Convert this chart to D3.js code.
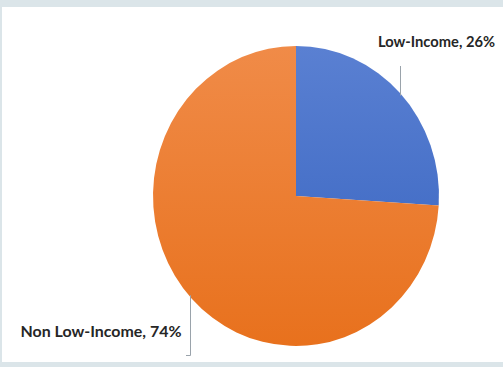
<!DOCTYPE html>
<html><head><meta charset="utf-8">
<script src="https://cdn.jsdelivr.net/npm/d3@7"></script>
<style>html,body{margin:0;padding:0;background:#ffffff;overflow:hidden}svg{display:block}</style>
</head><body>
<script>
const categories = ["Low-Income", "Non Low-Income"];
const values = [26, 74];
const colorsTop = ["#5a80d2", "#f08b48"];
const colorsBottom = ["#3562bf", "#e8711d"];

const W = 503, H = 367;
const cx = 296, cy = 196, rx = 143, ry = 150;

const svg = d3.select("body").append("svg").attr("width", W).attr("height", H);
svg.append("rect").attr("width", W).attr("height", H).attr("fill", "#dbe5e9");
svg.append("rect").attr("x", 2).attr("y", 7).attr("width", W - 2).attr("height", 355).attr("fill", "#ffffff");

const defs = svg.append("defs");
categories.forEach((c, i) => {
  const g = defs.append("linearGradient").attr("id", "g" + i)
    .attr("gradientUnits", "userSpaceOnUse")
    .attr("x1", 0).attr("y1", -ry).attr("x2", 0).attr("y2", ry);
  g.append("stop").attr("offset", "0%").attr("stop-color", colorsTop[i]);
  g.append("stop").attr("offset", "100%").attr("stop-color", colorsBottom[i]);
});

const data = categories.map((c, i) => ({ name: c, value: values[i], i }));
const pie = d3.pie().value(d => d.value).sort(null);
const arc = d3.arc().innerRadius(0).outerRadius(ry);

const gp = svg.append("g").attr("transform", `translate(${cx},${cy}) scale(${rx / ry},1)`);
gp.selectAll("path").data(pie(data)).join("path")
  .attr("d", arc)
  .attr("fill", d => `url(#g${d.data.i})`);

// leader lines
function edgeY(x, sign) {
  const dx = (x - cx) / rx;
  return cy + sign * ry * Math.sqrt(Math.max(0, 1 - dx * dx));
}
const lc = "#9aa3ab";
svg.append("line").attr("x1", 400.5).attr("x2", 400.5).attr("y1", 66).attr("y2", edgeY(400.5, -1) + 2)
  .attr("stroke", lc).attr("stroke-width", 1);
svg.append("polyline")
  .attr("points", `190.5,${edgeY(190.5, 1) - 2} 190.5,355.5 186,355.5`)
  .attr("fill", "none").attr("stroke", lc).attr("stroke-width", 1);

const font = "Lato, 'Open Sans', sans-serif";
svg.append("text").attr("x", 378).attr("y", 47)
  .attr("font-family", font).attr("font-weight", "bold").attr("font-size", 15)
  .attr("textLength", 117).attr("lengthAdjust", "spacingAndGlyphs")
  .attr("fill", "#262626").text(`${categories[0]}, ${values[0]}%`);
svg.append("text").attr("x", 20.5).attr("y", 336.5)
  .attr("font-family", font).attr("font-weight", "bold").attr("font-size", 15.5)
  .attr("textLength", 161).attr("lengthAdjust", "spacingAndGlyphs")
  .attr("fill", "#262626").text(`${categories[1]}, ${values[1]}%`);
</script>
</body></html>
